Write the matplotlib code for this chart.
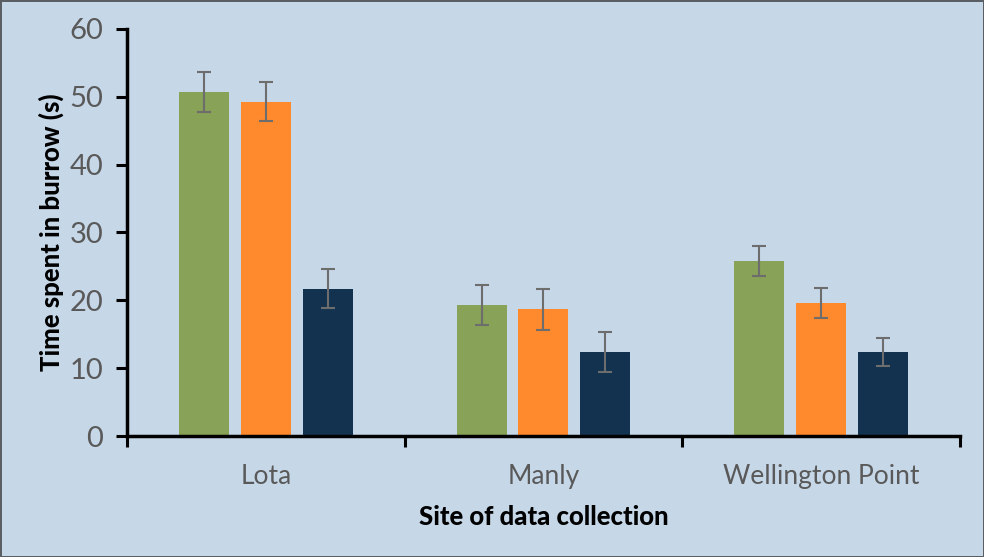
import matplotlib
matplotlib.use("Agg")
import matplotlib.pyplot as plt
import numpy as np

sites = ["Lota", "Manly", "Wellington Point"]
green_vals = [50.7, 19.3, 25.8]
green_err = [2.9, 2.9, 2.2]
orange_vals = [49.3, 18.7, 19.6]
orange_err = [2.9, 3.0, 2.2]
navy_vals = [21.7, 12.4, 12.4]
navy_err = [2.9, 2.9, 2.1]
yticks = [0, 10, 20, 30, 40, 50, 60]

bg = "#c6d7e8"
fig = plt.figure(figsize=(9.84, 5.57), dpi=100, facecolor=bg)
fig.patch.set_edgecolor("#5a5f66")
fig.patch.set_linewidth(2)
ax = fig.add_axes([0.129, 0.2172, 0.8466, 0.7308])
ax.set_facecolor(bg)

x = np.arange(len(sites))
w = 0.18
step = 0.223
ekw = dict(ecolor="#6d6d6d", elinewidth=1.5, capthick=1.5)
for off, vals, errs, col in [(-step, green_vals, green_err, "#88a257"),
                             (0, orange_vals, orange_err, "#ff8a2d"),
                             (step, navy_vals, navy_err, "#12324f")]:
    ax.bar(x + off, vals, w, color=col, yerr=errs, capsize=5, error_kw=ekw, zorder=2)

ax.set_xlim(-0.5, 2.5)
ax.set_ylim(0, 60)
ax.set_yticks(yticks)
ax.set_xticks([-0.5, 0.5, 1.5, 2.5])
ax.set_xticklabels([])
ax.set_xticks(x, minor=True)
ax.set_xticklabels(sites, minor=True)
ax.tick_params(axis="x", which="minor", length=0, pad=20, labelsize=19, labelcolor="#595959")
ax.tick_params(axis="x", which="major", length=8, width=2.2, color="black", direction="out")
ax.tick_params(axis="y", length=8, width=2.2, color="black", direction="out", labelsize=21, labelcolor="#595959", pad=9)
for lab in ax.get_xticklabels(minor=True) + ax.get_yticklabels():
    lab.set_family("Lato")

for s in ["top", "right"]:
    ax.spines[s].set_visible(False)
for s in ["left", "bottom"]:
    ax.spines[s].set_linewidth(2.5)
    ax.spines[s].set_color("black")

ax.set_xlabel("Site of data collection", fontsize=18.5, fontweight="black", family="Lato", labelpad=12)
ax.set_ylabel("Time spent in burrow (s)", fontsize=18.5, fontweight="black", family="Lato", labelpad=4)

fig.savefig("out.png", dpi=100, facecolor=bg, edgecolor=fig.patch.get_edgecolor())
